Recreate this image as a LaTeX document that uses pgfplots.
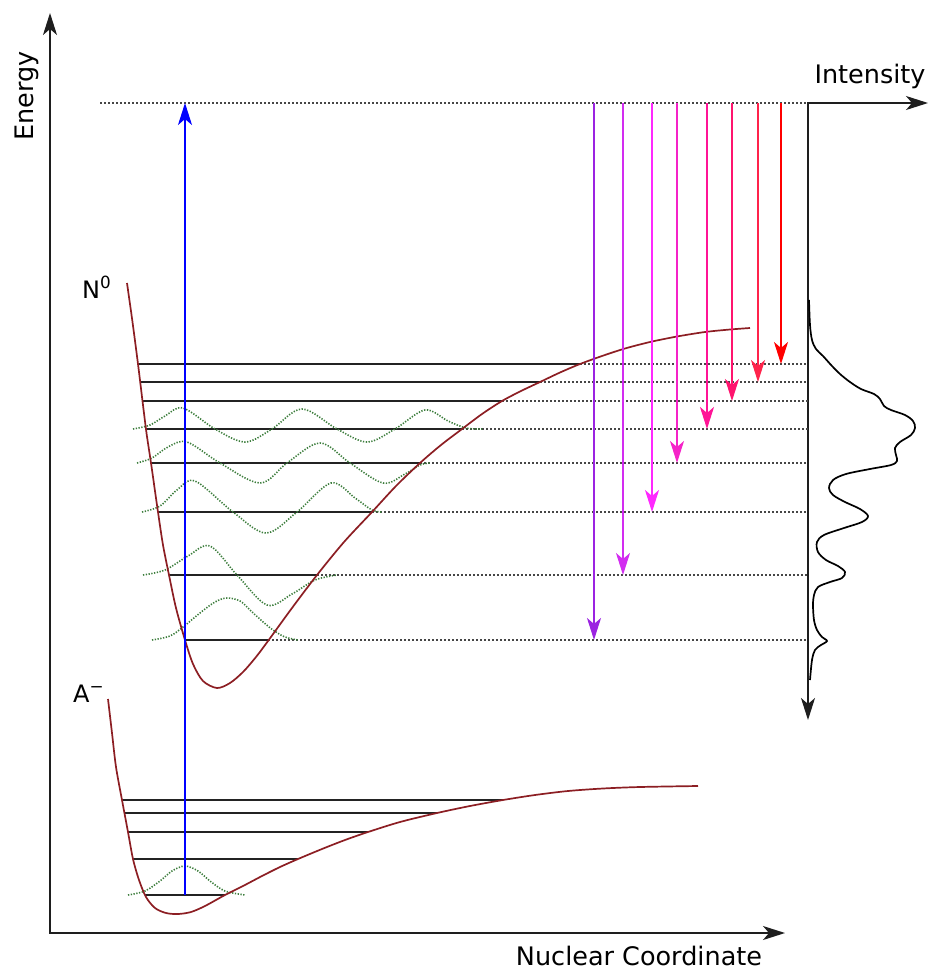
\documentclass[border=0pt]{standalone}
\usepackage{fontspec}
\setmainfont{DejaVu Sans}
\usepackage{pgfplots}
\pgfplotsset{compat=1.18}
\usetikzlibrary{arrows.meta}
\definecolor{morse}{RGB}{140,30,35}
\definecolor{wf}{RGB}{60,125,60}
\definecolor{dots}{RGB}{70,70,70}
\definecolor{lev}{RGB}{35,35,35}
\definecolor{axc}{RGB}{30,30,30}
\definecolor{eA}{RGB}{155,35,225}
\definecolor{eB}{RGB}{210,45,240}
\definecolor{eC}{RGB}{255,40,255}
\definecolor{eD}{RGB}{245,35,200}
\definecolor{eE}{RGB}{255,20,150}
\definecolor{eF}{RGB}{255,20,110}
\definecolor{eG}{RGB}{255,35,75}
\definecolor{eH}{RGB}{255,0,0}
\tikzset{
  hd/.style={-{Stealth[length=22pt,width=14pt,inset=6pt]}},
  hd2/.style={{Stealth[length=22pt,width=14pt,inset=6pt]}-{Stealth[length=22pt,width=14pt,inset=6pt]}},
  lvl/.style={lev,line width=1.7pt},
  dt/.style={dots,line width=1.6pt,dash pattern=on 1.5pt off 2.5pt},
  wv/.style={wf,line width=1.6pt,dash pattern=on 1.3pt off 1.5pt,smooth,tension=0.55},
  em/.style={hd,line width=1.9pt},
  lab/.style={inner sep=0pt, font=\fontsize{25.5}{30}\selectfont},
}
\begin{document}
\begin{tikzpicture}
\begin{axis}[scale only axis, width=930pt, height=970pt,
  xmin=0, xmax=930, ymin=0, ymax=970, y dir=reverse,
  hide axis, clip=false]
\addplot[draw=none] coordinates {(0,0) (930,970)};
% axes
\addplot[hd2, axc, line width=1.6pt] coordinates {(50,13) (50,933) (785,933)};
\addplot[hd2, axc, line width=1.6pt] coordinates {(928,103) (808,103) (808,720)};
% top dotted
\addplot[dt] coordinates {(100,103) (808,103)};
% dotted extensions
\addplot[dt] coordinates {(580,364) (808,364)};
\addplot[dt] coordinates {(540,382) (808,382)};
\addplot[dt] coordinates {(502,401) (808,401)};
\addplot[dt] coordinates {(462,429) (808,429)};
\addplot[dt] coordinates {(420,463) (808,463)};
\addplot[dt] coordinates {(372,512) (808,512)};
\addplot[dt] coordinates {(317,575) (808,575)};
\addplot[dt] coordinates {(268,640) (808,640)};
% N0 levels
\addplot[lvl] coordinates {(138,364) (580,364)};
\addplot[lvl] coordinates {(141,382) (540,382)};
\addplot[lvl] coordinates {(143,401) (502,401)};
\addplot[lvl] coordinates {(146,429) (462,429)};
\addplot[lvl] coordinates {(151,463) (420,463)};
\addplot[lvl] coordinates {(158,512) (372,512)};
\addplot[lvl] coordinates {(169,575) (317,575)};
\addplot[lvl] coordinates {(185,640) (268,640)};
% A- levels
\addplot[lvl] coordinates {(122,800) (503,800)};
\addplot[lvl] coordinates {(124,813) (437,813)};
\addplot[lvl] coordinates {(128,832) (368,832)};
\addplot[lvl] coordinates {(133,859) (298,859)};
\addplot[lvl] coordinates {(145,895) (225,895)};
% wavefunctions
\addplot[wv] coordinates {(133,429) (150,425) (165,416) (183,408) (215,429) (245,442) (272,429) (302,409) (337,429) (367,442) (395,429) (425,410) (448,421) (466,428) (482,429)};
\addplot[wv] coordinates {(137,463) (152,458) (168,447) (187,442) (220,463) (260,483) (287,463) (320,443) (350,463) (383,483) (405,474) (420,465) (430,463)};
\addplot[wv] coordinates {(142,512) (160,506) (177,490) (195,481) (233,512) (266,533) (297,512) (331,483) (355,498) (372,510) (382,512)};
\addplot[wv] coordinates {(143,575) (165,570) (188,556) (210,546) (237,575) (267,605) (292,594) (315,580) (337,575)};
\addplot[wv] coordinates {(152,640) (170,636) (183,627) (200,613) (215,602) (227,598) (240,601) (250,610) (262,621) (273,630) (285,637) (298,640)};
\addplot[wv] coordinates {(128,895) (145,891) (160,881) (172,871) (185,866) (198,871) (210,881) (225,891) (245,895)};
% Morse curves
\addplot[morse, line width=1.7pt, smooth, tension=0.5] coordinates {(127,283) (132.5,322) (138,364) (142.5,401) (146.5,433) (151,463) (158,512) (163,545) (169,575) (176,608) (185,640) (193,664) (203,681) (217,688) (230,683) (243,672) (256,657) (268,641) (292,608) (317,575) (344,542) (372,512) (396,486) (420,463) (441,445) (462,429) (482,414) (502,401) (521,391) (540,382) (560,372.5) (580,364) (602,356) (625,348.5) (650,342) (677,336.5) (705,332) (730,329.5) (750,328)};
\addplot[morse, line width=1.7pt, smooth, tension=0.5] coordinates {(108,699) (112,733) (116,767) (122,800) (128,832) (133,859) (139,880) (146,897) (155,908) (166,913) (178,914) (191,912) (205,906) (225,895) (243,886) (262,876) (280,867) (298,859) (322,849) (345,840) (368,832) (400,822) (437,813) (470,806) (503,800) (535,795) (568,791) (603,788.5) (640,787) (698,786)};
% blue excitation
\addplot[hd, blue, line width=1.9pt] coordinates {(185,895) (185,103)};
% emission arrows
\addplot[em, eA] coordinates {(594,103) (594,640)};
\addplot[em, eB] coordinates {(623,103) (623,575)};
\addplot[em, eC] coordinates {(652,103) (652,512)};
\addplot[em, eD] coordinates {(677,103) (677,463)};
\addplot[em, eE] coordinates {(707,103) (707,429)};
\addplot[em, eF] coordinates {(732,103) (732,401)};
\addplot[em, eG] coordinates {(758,103) (758,382)};
\addplot[em, eH] coordinates {(781,103) (781,364)};
% spectrum
\addplot[black, line width=1.7pt, smooth, tension=0.55] coordinates {(809,300) (810,325) (812,340) (816,349) (823,356) (832,366) (840,374) (850,382) (861,389) (874,394) (880,399) (884,406) (891,410) (905,415) (913,421) (915,428) (911,435) (900,442) (895,448) (896,455) (897,461) (891,465) (870,469) (846,474) (833,480) (829,488) (833,495) (845,502) (860,509) (868,516) (862,522) (844,528) (824,535) (817,542) (818,552) (826,560) (838,566) (845,572) (842,578) (830,582) (818,587) (814,595) (813,605) (814,620) (817,630) (822,637) (827,641) (821,645) (815,650) (812,660) (810,680)};
% labels
\node[lab, rotate=90, anchor=base] at (axis cs:33,96) {Energy};
\node[lab, anchor=base] at (axis cs:639,965) {Nuclear Coordinate};
\node[lab, anchor=base] at (axis cs:870,83) {Intensity};
\node[anchor=base west, inner sep=0pt, font=\fontsize{24}{28}\selectfont] at (axis cs:82,298) {N\textsuperscript{0}};
\node[anchor=base west, inner sep=0pt, font=\fontsize{24}{28}\selectfont] at (axis cs:73,702) {A\textsuperscript{−}};
\end{axis}
\end{tikzpicture}
\end{document}
